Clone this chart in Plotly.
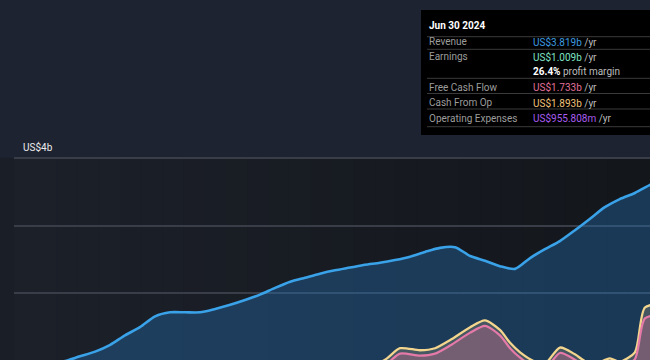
import plotly.graph_objects as go

# ---------------- data (US$ billions) ----------------
rev_dates = [
    "2013-03-31", "2013-06-30", "2013-09-30", "2013-12-31",
    "2014-03-31", "2014-06-30", "2014-09-30", "2014-12-31",
    "2015-03-31", "2015-06-30", "2015-09-30", "2015-12-31",
    "2016-03-31", "2016-06-30", "2016-09-30", "2016-12-31",
    "2017-03-31", "2017-06-30", "2017-09-30", "2017-12-31",
    "2018-03-31", "2018-06-30", "2018-09-30", "2018-12-31",
    "2019-03-31", "2019-06-30", "2019-09-30", "2019-12-31",
    "2020-03-31", "2020-06-30", "2020-09-30", "2020-12-31",
    "2021-03-31", "2021-06-30", "2021-09-30", "2021-12-31",
    "2022-03-31", "2022-06-30", "2022-09-30", "2022-12-31",
    "2023-03-31", "2023-06-30", "2023-09-30", "2023-12-31",
    "2024-03-31", "2024-06-30",
]
revenue = [
    0.84, 0.87, 0.90, 0.94,
    1.00, 1.07, 1.14, 1.24,
    1.38, 1.50, 1.66, 1.72,
    1.72, 1.72, 1.77, 1.83,
    1.90, 1.98, 2.08, 2.17,
    2.23, 2.29, 2.34, 2.38,
    2.42, 2.45, 2.49, 2.54,
    2.61, 2.67, 2.68, 2.55,
    2.48, 2.40, 2.36, 2.52,
    2.65, 2.77, 2.93, 3.10,
    3.27, 3.39, 3.48, 3.60,
    3.71, 3.819,
]

cf_dates = [
    "2013-03-31", "2016-06-30", "2019-03-31", "2019-07-31",
    "2019-10-31", "2020-02-29", "2020-05-31", "2020-08-31",
    "2020-12-31", "2021-03-31", "2021-06-30", "2021-08-31",
    "2021-10-31", "2022-01-31", "2022-03-31", "2022-06-30",
    "2022-09-30", "2022-11-30", "2023-01-31", "2023-04-30",
    "2023-06-30", "2023-09-30", "2023-11-30", "2024-03-31",
    "2024-06-30",
]
cash_from_op = [
    0.40, 0.65, 0.90, 1.02,
    1.19, 1.16, 1.19, 1.31,
    1.50, 1.60, 1.46, 1.27,
    1.13, 0.99, 0.96, 1.20,
    1.10, 1.00, 0.96, 1.04,
    0.99, 1.13, 1.79, 1.86,
    1.893,
]
free_cash_flow = [
    0.30, 0.55, 0.82, 0.94,
    1.11, 1.08, 1.11, 1.23,
    1.42, 1.52, 1.38, 1.19,
    1.05, 0.91, 0.88, 1.12,
    1.02, 0.92, 0.88, 0.96,
    0.91, 1.03, 1.63, 1.70,
    1.733,
]

y_tick_vals = [2, 3, 4]
y_top_label = "US$4b"

tip_date = "Jun 30 2024"
tip_labels = ["Revenue", "Earnings", "", "Free Cash Flow", "Cash From Op", "Operating Expenses"]
tip_values = ["US$3.819b", "US$1.009b", "26.4%", "US$1.733b", "US$1.893b", "US$955.808m"]
tip_suffix = [" /yr", " /yr", " profit margin", " /yr", " /yr", " /yr"]
tip_colors = ["#3d9be0", "#7fe3c4", "#ffffff", "#e0709a", "#f0c27a", "#a85cf0"]

# ---------------- styling / geometry ----------------
W, H = 650, 360
ML, MT = 14, 150
PX_PER_B = 67.8
GRID4_PY = 157.7
y_max = 4 + (GRID4_PY - MT) / PX_PER_B
y_min = 4 - (H - GRID4_PY) / PX_PER_B

FONT = "Roboto, 'Open Sans', Arial, sans-serif"


def fx(px):
    return (px - ML) / (W - ML)


def fy(py):
    return (H - py) / (H - MT)


fig = go.Figure()

fig.add_trace(go.Scatter(
    x=rev_dates, y=revenue, mode="lines",
    line=dict(color="#3aa2e8", width=2.6, shape="spline", smoothing=0.7),
    fill="tozeroy", fillcolor="rgba(40,120,190,0.36)",
    hoverinfo="skip", name="Revenue",
))
fig.add_trace(go.Scatter(
    x=cf_dates, y=cash_from_op, mode="lines",
    line=dict(color="#f3d58e", width=2.3, shape="spline", smoothing=0.7),
    fill="tozeroy", fillcolor="rgba(225,190,130,0.22)",
    hoverinfo="skip", name="Cash From Op",
))
fig.add_trace(go.Scatter(
    x=cf_dates, y=free_cash_flow, mode="lines",
    line=dict(color="#e57aa8", width=2.2, shape="spline", smoothing=0.7),
    fill="tozeroy", fillcolor="rgba(200,105,145,0.36)",
    hoverinfo="skip", name="Free Cash Flow",
))

shapes = []
# horizontal background gradient of the plotting area (below gridlines)
N = 30
c0 = (28, 32, 41)
c1 = (19, 22, 27)
for i in range(N):
    t = i / (N - 1)
    col = tuple(round(c0[k] + (c1[k] - c0[k]) * t) for k in range(3))
    shapes.append(dict(type="rect", xref="paper", yref="y", layer="below",
                       x0=i / N, x1=(i + 1) / N + 0.002, y0=y_min - 1, y1=4,
                       fillcolor="rgb(%d,%d,%d)" % col, line=dict(width=0)))
shapes.append(dict(type="rect", xref="paper", yref="y", layer="below",
                   x0=fx(0), x1=0, y0=y_min - 1, y1=4,
                   fillcolor="#1a1e27", line=dict(width=0)))

# tooltip box
shapes.append(dict(type="rect", xref="paper", yref="paper", layer="above",
                   x0=fx(421), x1=fx(680), y0=fy(135), y1=fy(10),
                   fillcolor="#000000", line=dict(width=0)))
for sy in [36.7, 49.3, 78.3, 93.5, 109.0, 126.7]:
    shapes.append(dict(type="line", xref="paper", yref="paper", layer="above",
                       x0=fx(427), x1=fx(660), y0=fy(sy), y1=fy(sy),
                       line=dict(color="#3a3a3a", width=1)))

annotations = [
    dict(text=y_top_label, xref="paper", yref="paper", x=fx(21), y=fy(147),
         xanchor="left", yanchor="middle", showarrow=False,
         font=dict(family=FONT, size=10, color="#ececec")),
    dict(text="<b>" + tip_date + "</b>", xref="paper", yref="paper", x=fx(427), y=fy(25.3),
         xanchor="left", yanchor="middle", showarrow=False,
         font=dict(family=FONT, size=10, color="#ffffff")),
]
row_y = [41.7, 56.7, 71.7, 87.3, 102.7, 118.3]
for lab, val, suf, col, ry in zip(tip_labels, tip_values, tip_suffix, tip_colors, row_y):
    if lab:
        annotations.append(dict(text=lab, xref="paper", yref="paper", x=fx(427), y=fy(ry),
                                xanchor="left", yanchor="middle", showarrow=False,
                                font=dict(family=FONT, size=10, color="#9c9c9c")))
    vtxt = "<span style='color:%s'><b>%s</b></span>%s" % (col, val, suf) if col == "#ffffff" else \
        "<span style='color:%s'>%s</span>%s" % (col, val, suf)
    annotations.append(dict(text=vtxt, xref="paper", yref="paper", x=fx(531), y=fy(ry),
                            xanchor="left", yanchor="middle", showarrow=False,
                            font=dict(family=FONT, size=10, color="#bdbdbd")))

fig.update_layout(
    width=W, height=H,
    margin=dict(l=ML, r=0, t=MT, b=0, pad=0),
    paper_bgcolor="#1e2332",
    plot_bgcolor="rgba(0,0,0,0)",
    showlegend=False,
    xaxis=dict(type="date", range=["2013-05-24", "2023-12-31"], visible=False,
               showgrid=False, zeroline=False, fixedrange=True),
    yaxis=dict(range=[y_min, y_max], tickvals=y_tick_vals, showticklabels=False,
               showgrid=True, gridcolor="#383d48", gridwidth=1.5, zeroline=False,
               showline=False, ticks="", fixedrange=True),
    shapes=shapes,
    annotations=annotations,
    hovermode=False,
)

fig.write_html(
    "out.html",
    config={"displayModeBar": False},
    post_script="document.body.style.margin='0';document.body.style.background='#1e2332';"
                "document.documentElement.style.overflow='hidden';",
)
